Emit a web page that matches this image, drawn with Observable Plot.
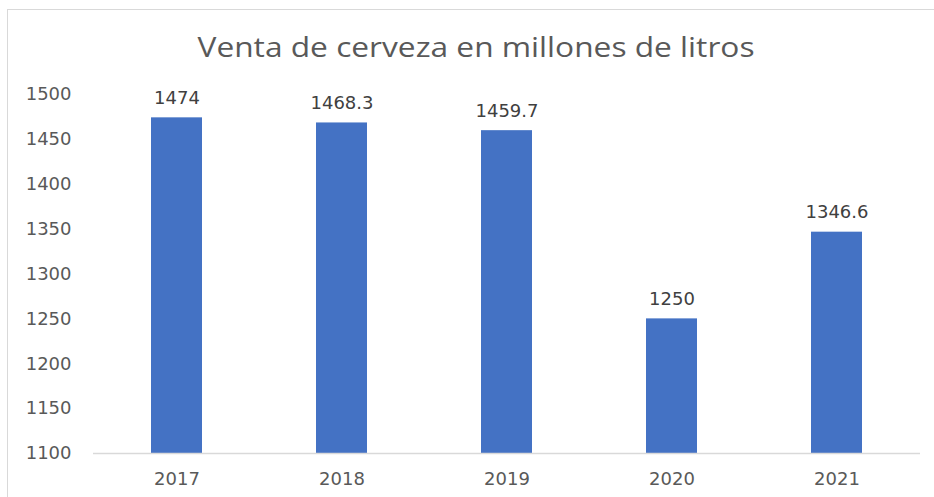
<!DOCTYPE html>
<html>
<head>
<meta charset="utf-8">
<script src="https://cdn.jsdelivr.net/npm/d3@7"></script>
<script src="https://cdn.jsdelivr.net/npm/@observablehq/plot@0.6"></script>
<style>
  html, body { margin: 0; padding: 0; background: #fff; overflow: hidden; }
  #wrap { position: relative; width: 934px; height: 497px; }
  #frame { position: absolute; left: 7px; top: 9px; width: 2000px; height: 2000px; border: 1px solid #d9d9d9; box-sizing: border-box; pointer-events: none; }
  #titlebox { position: relative; height: 60px; }
  #title { position: absolute; top: 32px; left: 476px; transform: translateX(-50%); white-space: nowrap;
           font-family: "Open Sans", sans-serif; font-size: 28px; line-height: 1; color: #595959; }
  #chart { position: relative; }
</style>
</head>
<body>
<div id="wrap">
  <div id="frame"></div>
  <div id="titlebox"><span id="title">Venta de cerveza en millones de litros</span></div>
  <div id="chart"></div>
</div>
<script>
const years = ["2017", "2018", "2019", "2020", "2021"];
const ventas = [1474, 1468.3, 1459.7, 1250, 1346.6];
const yTicks = [1100, 1150, 1200, 1250, 1300, 1350, 1400, 1450, 1500];

const data = years.map((y, i) => ({year: y, value: ventas[i]}));
const font = "DejaVu Sans, sans-serif";

const chart = Plot.plot({
  width: 934,
  height: 437,
  marginLeft: 93,
  marginRight: 14,
  marginTop: 34,
  marginBottom: 44,
  style: {fontFamily: font, fontSize: "18px", color: "#595959", background: "transparent"},
  x: {domain: years, paddingInner: 0.69, paddingOuter: 0.345, label: null},
  y: {domain: [yTicks[0], yTicks[yTicks.length - 1]], label: null},
  marks: [
    Plot.axisY({ticks: yTicks, tickFormat: d => String(d), tickSize: 0, tickPadding: 22, label: null, fill: "#595959", fontSize: 18}),
    Plot.axisX({tickSize: 0, tickPadding: 19, label: null, fill: "#595959", fontSize: 18}),
    Plot.barY(data, {x: "year", y1: () => yTicks[0], y2: "value", fill: "#4472C4"}),
    Plot.ruleY([yTicks[0]], {stroke: "#d9d9d9", strokeWidth: 1.5}),
    Plot.text(data, {x: "year", y: "value", text: d => String(d.value), lineAnchor: "bottom", dy: -14,
                     fill: "#404040", fontSize: 18})
  ]
});
document.getElementById("chart").appendChild(chart);

// fit title width to reference proportions
const t = document.getElementById("title");
const w = t.getBoundingClientRect().width;
const target = 557;
t.style.transform = `translateX(-50%) scaleX(${target / w})`;
</script>
</body>
</html>
